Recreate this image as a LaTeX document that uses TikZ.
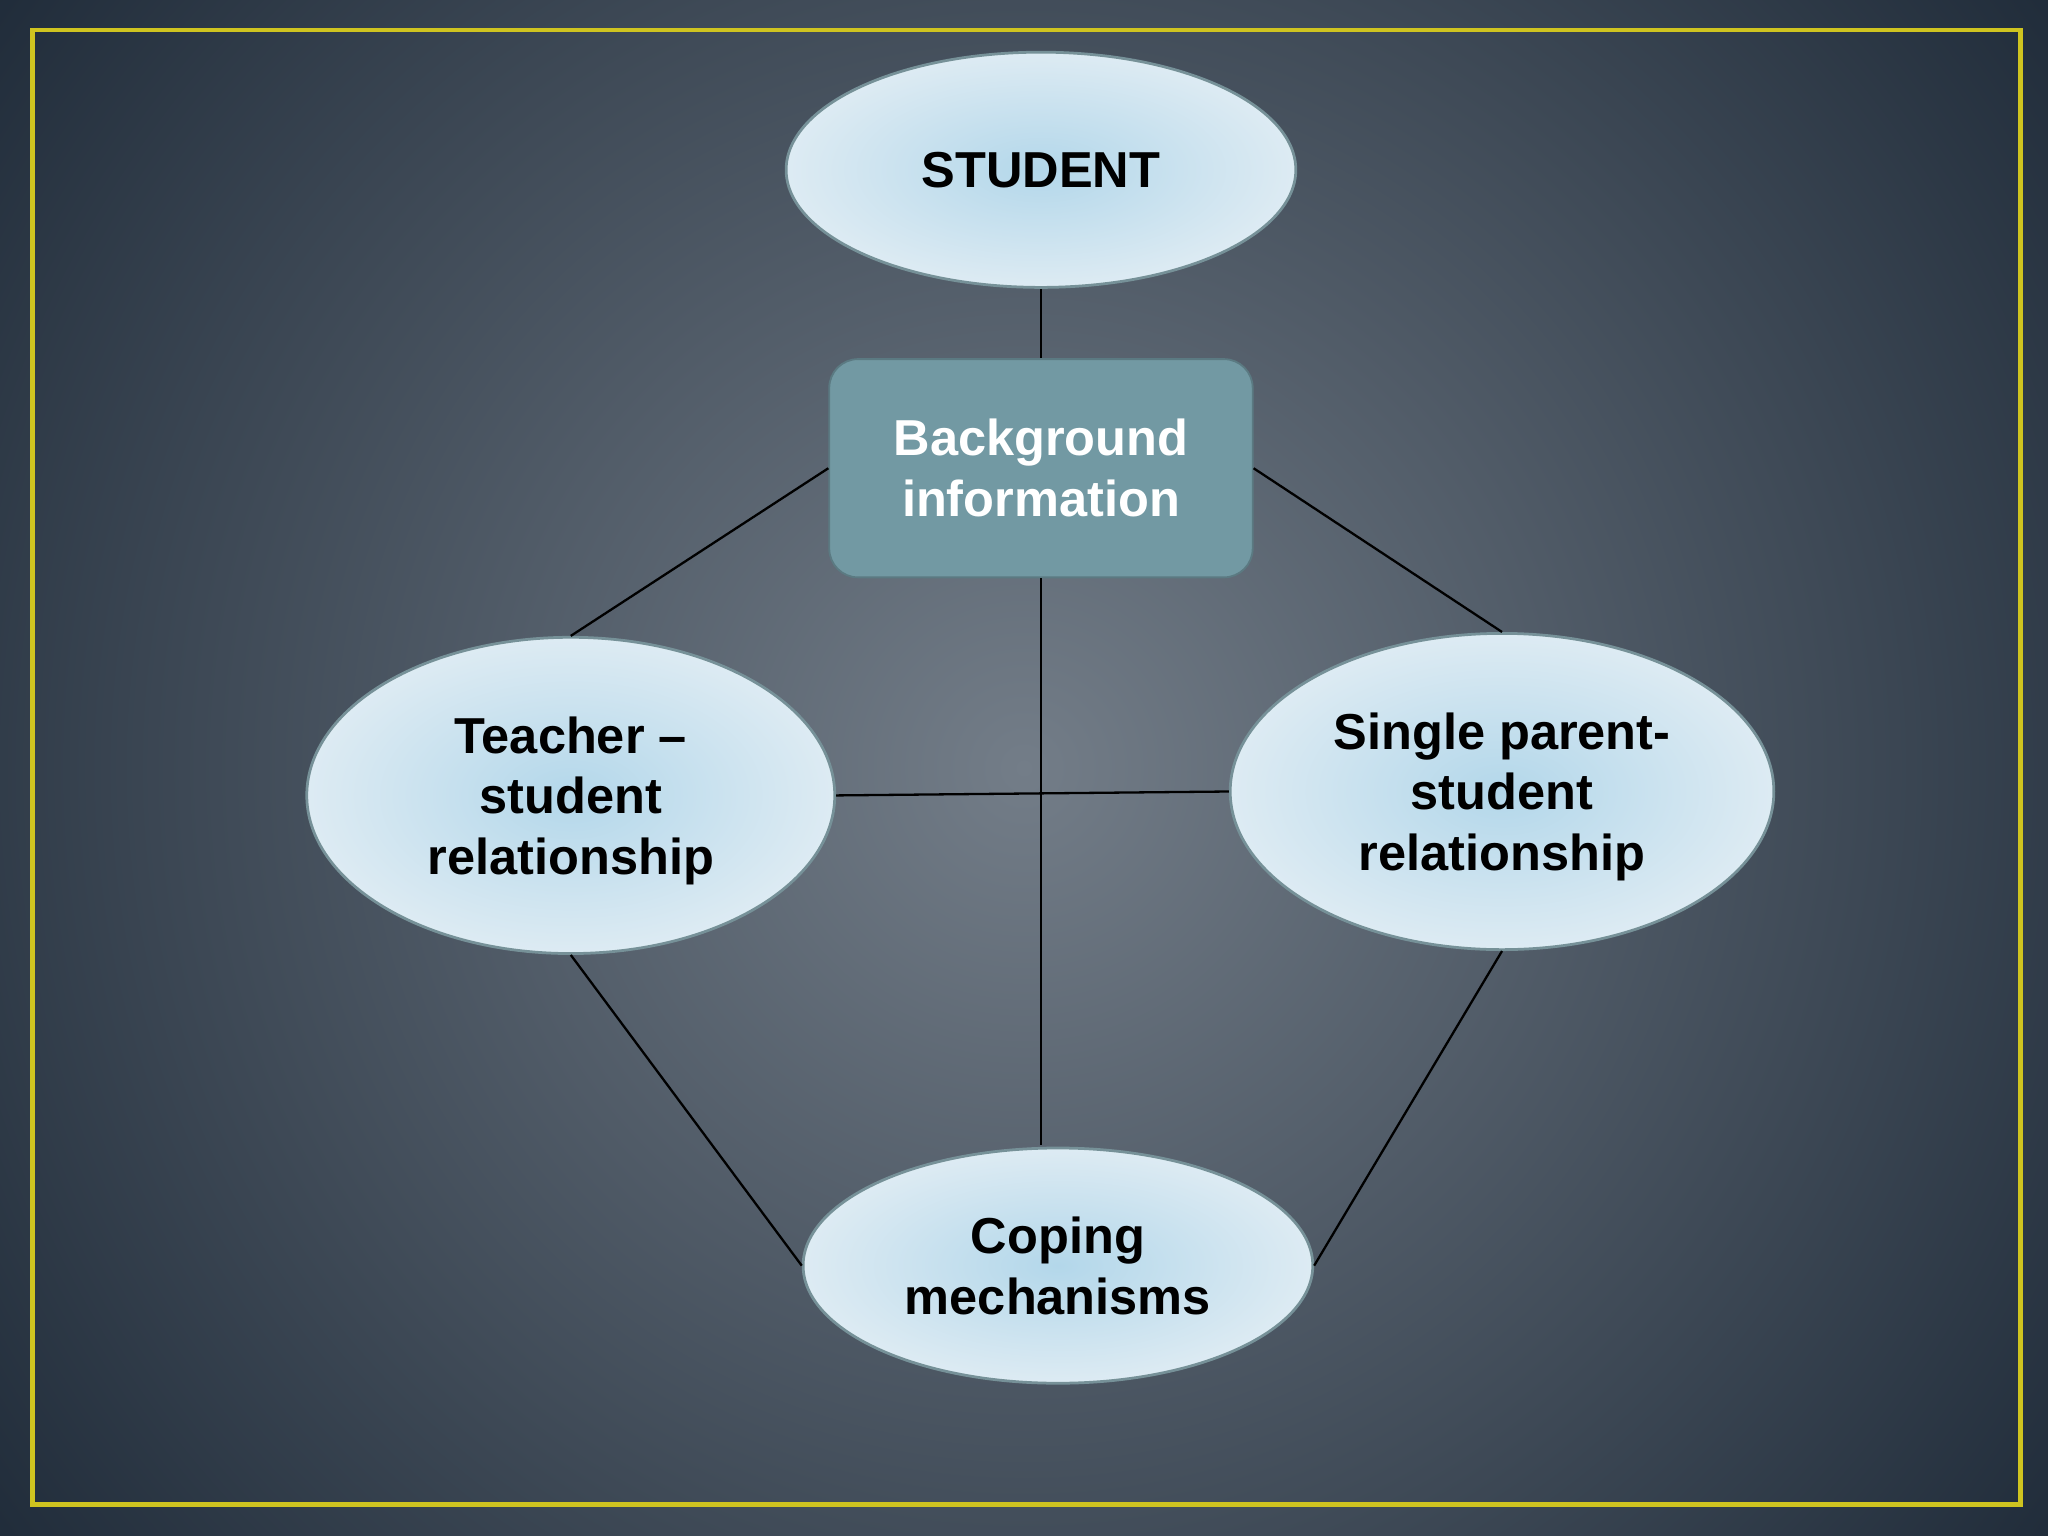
\documentclass[tikz,border=0pt]{standalone}
\usepackage{fontspec}
\setmainfont{Liberation Sans}
\usetikzlibrary{shapes.geometric}
\definecolor{bgin}{HTML}{737D88}
\definecolor{bgout}{HTML}{1C2836}
\definecolor{elin}{HTML}{B3D7EA}
\definecolor{elout}{HTML}{DDEBF3}
\definecolor{boxc}{HTML}{7299A3}
\definecolor{frame}{HTML}{CFC420}
\tikzset{
  oval/.style={ellipse, draw=boxc!70!gray, line width=0.6pt, shading=radial, inner color=elin, outer color=elout, font=\bfseries\fontsize{11}{13.2}\selectfont, align=center, inner sep=0pt, text depth=-3pt},
  link/.style={draw=black, line width=0.5pt}
}
\begin{document}
\begin{tikzpicture}[x=0.01cm,y=-0.01cm]
\begin{scope}
\clip (0,0) rectangle (1568,1176);
\shade[inner color=bgin, outer color=bgout] (-250,-450) rectangle (1818,1626);
\end{scope}
\useasboundingbox (0,0) rectangle (1568,1176);
\draw[color=frame, line width=1pt] (25,23) rectangle (1547,1152);
\node[oval, minimum width=3.9cm, minimum height=1.8cm] (st) at (797,130) {STUDENT};
\node[draw=boxc!80!black, fill=boxc, rounded corners=0.22cm, minimum width=3.24cm, minimum height=1.67cm, text=white, font=\bfseries\fontsize{11}{13.2}\selectfont, align=center] (bg) at (797,358.5) {Background\\information};
\node[oval, minimum width=4.04cm, minimum height=2.42cm] (te) at (437,609) {Teacher --\\student\\relationship};
\node[oval, minimum width=4.16cm, minimum height=2.42cm] (si) at (1150,606) {Single parent-\\student\\relationship};
\node[oval, minimum width=3.9cm, minimum height=1.8cm] (co) at (810,969) {Coping\\mechanisms};
\draw[link] (st.south) -- (bg.north);
\draw[link] (bg.west) -- (te.north);
\draw[link] (bg.east) -- (si.north);
\draw[link] (bg.south) -- (797,877);
\draw[link] (te.east) -- (si.west);
\draw[link] (te.south) -- (co.west);
\draw[link] (si.south) -- (co.east);
\end{tikzpicture}
\end{document}
